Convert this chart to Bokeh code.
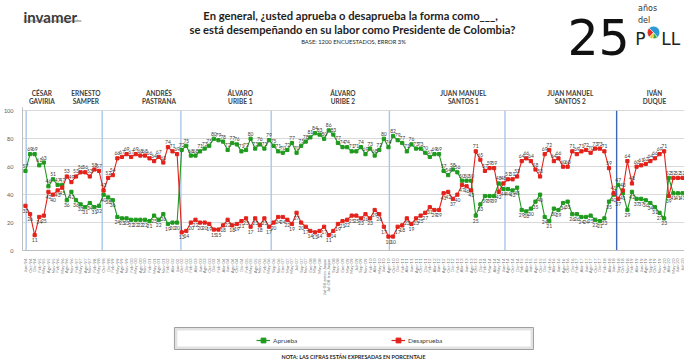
import numpy as np
from bokeh.plotting import figure
from bokeh.models import ColumnDataSource, FixedTicker, Range1d, Legend, LegendItem
from bokeh.layouts import column
from bokeh.embed import file_html
from bokeh.resources import INLINE
from bokeh.core.properties import value

FONT = "Lato"

# ---------------- data ----------------
presidents = [("CÉSAR", "GAVIRIA"), ("ERNESTO", "SAMPER"), ("ANDRÉS", "PASTRANA"),
              ("ÁLVARO", "URIBE 1"), ("ÁLVARO", "URIBE 2"), ("JUAN MANUEL", "SANTOS 1"),
              ("JUAN MANUEL", "SANTOS 2"), ("IVÁN", "DUQUE")]

gaviria_ap = [57]
gaviria_de = [32]
samper_ap = [69, 69, 61, 63, 46, 51, 47, 47, 36, 42, 36, 33, 31, 34, 31, 32]
samper_de = [26, 11, 24, 25, 42, 40, 43, 45, 53, 49, 53, 56, 56, 53, 58, 57]
pastrana_ap = [40, 38, 36, 24, 23, 23, 22, 22, 22, 22, 21, 25, 22, 26, 19, 20, 20]
pastrana_de = [43, 52, 54, 66, 67, 69, 67, 69, 68, 68, 66, 64, 67, 63, 74, 71, 69]
uribe1_ap = [72, 75, 68, 68, 71, 73, 75, 80, 79, 78, 72, 77, 76, 71, 72, 80, 73, 76, 73, 79]
uribe1_de = [13, 14, 20, 22, 20, 20, 19, 15, 15, 18, 22, 18, 19, 21, 23, 17, 23, 18, 23, 17]
uribe2_ap = [75, 71, 70, 72, 77, 70, 75, 78, 81, 84, 83, 80, 86, 83, 77, 74, 74, 71, 71, 74, 69, 73, 68, 72, 80]
uribe2_de = [20, 24, 24, 22, 19, 27, 20, 17, 14, 13, 14, 17, 11, 14, 19, 21, 22, 25, 25, 23, 26, 23, 29, 26, 17]
santos1_ap = [74, 82, 79, 77, 71, 76, 73, 73, 70, 67, 69, 69, 57, 54, 58, 56, 50, 50, 50, 25, 33, 39, 39, 39, 48, 44]
santos1_de = [10, 10, 17, 18, 23, 19, 23, 25, 27, 31, 29, 29, 41, 42, 37, 40, 47, 46, 43, 71, 65, 57, 59, 59, 42, 48]
santos2_ap = [44, 43, 45, 29, 28, 30, 35, 40, 24, 21, 30, 29, 34, 35, 26, 26, 24, 24, 25, 22, 21, 23, 35, 40]
santos2_de = [51, 51, 53, 64, 66, 64, 58, 53, 69, 72, 64, 66, 60, 60, 71, 69, 71, 72, 70, 73, 73, 71, 59, 41]
duque_ap = [47, 41, 29, 42, 37, 37, 36, 34, 31, 27, 23, 52, 41, 41, 41]
duque_de = [37, 43, 64, 48, 60, 61, 62, 64, 66, 69, 71, 39, 52, 52, 52]

gaviria_dates = ["Jun-94"]
samper_dates = ["Oct-94", "Dic-94", "Feb-95", "May-95", "Ago-95", "Nov-95", "Feb-96", "May-96",
                "Ago-96", "Nov-96", "Feb-97", "May-97", "Ago-97", "Nov-97", "Feb-98", "May-98"]
pastrana_dates = ["Oct-98", "Dic-98", "Feb-99", "May-99", "Ago-99", "Nov-99", "Feb-00", "May-00",
                  "Ago-00", "Nov-00", "Feb-01", "May-01", "Ago-01", "Nov-01", "Feb-02", "Abr-02", "Jun-02"]
uribe1_dates = ["Oct-02", "Dic-02", "Feb-03", "Abr-03", "Jun-03", "Ago-03", "Oct-03", "Dic-03",
                "Feb-04", "Abr-04", "Jun-04", "Ago-04", "Oct-04", "Dic-04", "Feb-05", "May-05",
                "Ago-05", "Nov-05", "Feb-06", "May-06"]
uribe2_dates = ["Sep-06", "Nov-06", "Ene-07", "Mar-07", "May-07", "Jul-07", "Sep-07", "Nov-07",
                "Ene-08", "Mar-08", "May-08", "Jul-08 antes Jaque", "Jul-08 tras Jaque", "Sep-08",
                "Nov-08", "Ene-09", "Mar-09", "May-09", "Jul-09", "Sep-09", "Nov-09", "Feb-10",
                "Abr-10", "May-10", "Jun-10"]
santos1_dates = ["Ago-10", "Oct-10", "Dic-10", "Feb-11", "Abr-11", "Jun-11", "Ago-11", "Oct-11",
                 "Dic-11", "Feb-12", "Abr-12", "Jun-12", "Ago-12", "Oct-12", "Dic-12", "Feb-13",
                 "Abr-13", "Jun-13", "Ago-13", "Oct-13", "Dic-13", "Feb-14", "Mar-14", "Abr-14",
                 "May-14", "Jun-14"]
santos2_dates = ["Ago-14", "Oct-14", "Dic-14", "Feb-15", "Abr-15", "Jun-15", "Ago-15", "Oct-15",
                 "Dic-15", "Feb-16", "Abr-16", "Jun-16", "Ago-16", "Oct-16", "Dic-16", "Feb-17",
                 "Abr-17", "Jun-17", "Ago-17", "Oct-17", "Dic-17", "Feb-18", "Abr-18", "Jun-18"]
duque_dates = ["Sep-18", "Oct-18", "Nov-18", "Feb-19", "Abr-19", "Jun-19", "Ago-19", "Sep-19",
               "Oct-19", "Nov-19", "Feb-20", "Abr-20", "May-20", "Jun-20", "Jul-20"]

approve = (gaviria_ap + samper_ap + pastrana_ap + uribe1_ap + uribe2_ap +
           santos1_ap + santos2_ap + duque_ap)
disapprove = (gaviria_de + samper_de + pastrana_de + uribe1_de + uribe2_de +
              santos1_de + santos2_de + duque_de)
dates = (gaviria_dates + samper_dates + pastrana_dates + uribe1_dates + uribe2_dates +
         santos1_dates + santos2_dates + duque_dates)
N = len(approve)
idx = list(range(N))

# ---------------- layout constants ----------------
W = 684
GREEN = "#1f9a1f"
RED = "#e3221b"
TXT = "#404040"

# separators between presidencies (in x data units) and label centres (page px)
sep_x = [0.15, 16.7, 33.83, 53.48, 79.2, 104.36, 128.66]
sep_col = ["#a9c7e8"] * 6 + ["#3c67b4"]
pres_cx = [28, 73.5, 149, 233, 339, 463.5, 574, 661]

# ---------------- header ----------------
hdr = figure(width=W, height=107, x_range=Range1d(8, 692), y_range=Range1d(108, 1),
             output_backend="svg", toolbar_location=None, min_border=0,
             x_axis_location=None, y_axis_location=None, outline_line_color=None)
hdr.grid.visible = False

hdr.text(x=[9], y=[17], text=["invamer"], text_font=value(FONT), text_font_size="15px",
         text_font_style="bold", text_color="#3a3a3a", text_baseline="alphabetic")
hdr.text(x=[9], y=[21], text=["investigación y asesoría de mercados"], text_font=value(FONT),
         text_font_size="3.6px", text_color="#555555", text_baseline="middle")

hdr.text(x=[347, 349], y=[16, 30],
         text=["En general, ¿usted aprueba o desaprueba la forma como___,",
               "se está desempeñando en su labor como Presidente de Colombia?"],
         text_font=value(FONT), text_font_size="11.2px", text_font_style="bold",
         text_color="#1e1e1e", text_align="center", text_baseline="middle")
hdr.text(x=[350], y=[42], text=["BASE: 1200 ENCUESTADOS, ERROR 3%"], text_font=value(FONT),
         text_font_size="5.8px", text_color="#262626", text_align="center", text_baseline="middle")

hdr.text(x=[571], y=[37], text=["25"], text_font=value("DejaVu Sans"), text_font_size="49px",
         text_color="#111111", text_baseline="alphabetic")
hdr.text(x=[644, 644], y=[9, 21], text=["años", "del"], text_font=value("DejaVu Sans"),
         text_font_size="8px", text_color="#333333", text_baseline="alphabetic")
hdr.text(x=[641, 668], y=[39, 39], text=["P", "LL"], text_font=value("DejaVu Sans"),
         text_font_size="17px", text_color="#222222", text_baseline="alphabetic")
logo_share = [0.52, 0.26, 0.1, 0.12]
logo_col = ["#2a9ad6", "#e0302a", "#f2c318", "#3aa845"]
ang = np.concatenate([[0], np.cumsum(logo_share)]) * 2 * np.pi - 0.9
hdr.wedge(x=[660] * 4, y=[33] * 4, radius=6.5, start_angle=ang[:-1], end_angle=ang[1:],
          fill_color=logo_col, line_color="white", line_width=0.5)

hdr.text(x=pres_cx, y=[94] * len(presidents), text=[a for a, b in presidents],
         text_font=value(FONT), text_font_size="6.5px", text_font_style="bold",
         text_color=TXT, text_align="center", text_baseline="middle")
hdr.text(x=pres_cx, y=[102.3] * len(presidents), text=[b for a, b in presidents],
         text_font=value(FONT), text_font_size="6.5px", text_font_style="bold",
         text_color=TXT, text_align="center", text_baseline="middle")

# ---------------- main chart ----------------
p = figure(width=W, height=192, x_range=Range1d(-0.645, N - 1 + 0.43), y_range=Range1d(0, 102.4),
           output_backend="svg", toolbar_location=None, min_border_left=14, min_border_right=0,
           min_border_top=0, min_border_bottom=49, outline_line_color=None)

yt = FixedTicker(ticks=[0, 20, 40, 60, 80, 100])
p.yaxis.ticker = yt
p.ygrid.ticker = yt
p.ygrid.grid_line_color = "#d9d9d9"
p.xgrid.visible = False
p.yaxis.axis_line_color = "#bfbfbf"
p.yaxis.major_tick_line_color = None
p.yaxis.minor_tick_line_color = None
p.yaxis.major_label_text_font = FONT
p.yaxis.major_label_text_font_size = "5.5px"
p.yaxis.major_label_text_color = "#595959"
p.yaxis.major_label_standoff = 3

p.xaxis.ticker = FixedTicker(ticks=idx)
p.xaxis.major_label_overrides = {i: d for i, d in enumerate(dates)}
p.xaxis.major_label_orientation = np.pi / 2
p.xaxis.major_label_text_font = FONT
p.xaxis.major_label_text_font_size = "4.5px"
p.xaxis.major_label_text_color = "#808080"
p.xaxis.major_label_standoff = 2
p.xaxis.axis_line_color = "#bfbfbf"
p.xaxis.major_tick_line_color = None
p.xaxis.minor_tick_line_color = None

p.segment(x0=sep_x, y0=0, x1=sep_x, y1=100, line_color=sep_col, line_width=1.4)

ap_off = [-5 if a >= d else 5 for a, d in zip(approve, disapprove)]
de_off = [5 if a >= d else -5 for a, d in zip(approve, disapprove)]
src = ColumnDataSource(dict(x=idx, ap=approve, de=disapprove,
                            ap_lab=[str(v) for v in approve], de_lab=[str(v) for v in disapprove],
                            ap_off=ap_off, de_off=de_off))

la = p.line("x", "ap", source=src, line_color=GREEN, line_width=1.1)
sa = p.scatter("x", "ap", source=src, marker="square", size=3.2, fill_color=GREEN, line_color=GREEN)
lr = p.line("x", "de", source=src, line_color=RED, line_width=1.1)
sr = p.scatter("x", "de", source=src, marker="square", size=3.2, fill_color=RED, line_color=RED)

p.text(x="x", y="ap", text="ap_lab", y_offset="ap_off", source=src, text_font=value(FONT),
       text_font_size="5px", text_color=TXT, text_align="center", text_baseline="middle")
p.text(x="x", y="de", text="de_lab", y_offset="de_off", source=src, text_font=value(FONT),
       text_font_size="5px", text_color=TXT, text_align="center", text_baseline="middle")

# ---------------- footer (legend + note) ----------------
ftr = figure(width=W, height=62, x_range=Range1d(8, 692), y_range=Range1d(362, 300),
             output_backend="svg", toolbar_location=None, min_border=0,
             x_axis_location=None, y_axis_location=None, outline_line_color=None)
ftr.grid.visible = False
ftr.quad(left=[165], right=[536], top=[328], bottom=[350], fill_color="#e2e2e2",
         line_color="#a0a0a0", line_width=1)
ftr.quad(left=[168], right=[533], top=[331], bottom=[347], fill_color="white", line_color=None)

# legend swatches (single off-canvas point so the legend draws the glyphs)
fla = ftr.line(x=[0, 1], y=[0, 0], line_color=GREEN, line_width=1.2)
fsa = ftr.scatter(x=[0], y=[0], marker="square", size=3.4, fill_color=GREEN, line_color=GREEN)
flr = ftr.line(x=[0, 1], y=[0, 0], line_color=RED, line_width=1.2)
fsr = ftr.scatter(x=[0], y=[0], marker="square", size=3.4, fill_color=RED, line_color=RED)
leg = Legend(items=[LegendItem(label="Aprueba", renderers=[fla, fsa]),
                    LegendItem(label="Desaprueba", renderers=[flr, fsr])],
             orientation="horizontal", location=(234, 15), border_line_color=None,
             background_fill_alpha=0, padding=0, spacing=18, glyph_width=14, glyph_height=12,
             label_width=100, label_height=12, label_standoff=3, label_text_font=FONT,
             label_text_font_size="6.5px", label_text_color=TXT, margin=0)
ftr.add_layout(leg)

ftr.text(x=[350], y=[357], text=["NOTA: LAS CIFRAS ESTÁN EXPRESADAS EN PORCENTAJE"],
         text_font=value(FONT), text_font_size="5.4px", text_font_style="bold",
         text_color="#262626", text_align="center", text_baseline="middle")

layout = column(hdr, p, ftr, spacing=0)
open("out.html", "w").write(file_html(layout, INLINE, title="Aprobación presidencial"))
